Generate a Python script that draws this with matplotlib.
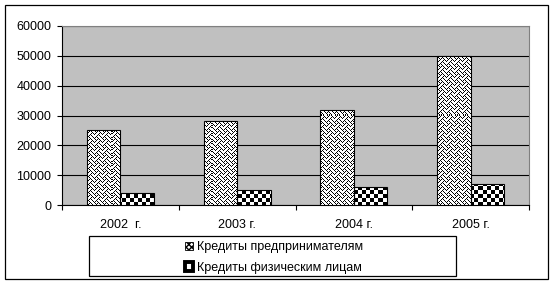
import numpy as np
import matplotlib
matplotlib.use("Agg")
import matplotlib.pyplot as plt
from matplotlib.patches import Rectangle, Patch

plt.rcParams['font.family'] = ['Liberation Sans', 'DejaVu Sans']

categories = ['2002  г.', '2003 г.', '2004 г.', '2005 г.']
entrepreneurs = [25000, 28000, 32000, 50000]
individuals = [4000, 5000, 6000, 7000]
series_names = ['Кредиты предпринимателям', 'Кредиты физическим лицам']
yticks = [0, 10000, 20000, 30000, 40000, 50000, 60000]

W, H = 555, 284
FS = 9
fig = plt.figure(figsize=(W / 100, H / 100), dpi=100)
fig.patch.set_facecolor('white')

# outer frame
fig.patches.append(Rectangle((5 / W, 1 - 279 / H), 543 / W, 274 / H, transform=fig.transFigure,
                             fill=False, edgecolor='black', linewidth=0.9))

ax_l, ax_r, ax_t, ax_b = 62, 529, 26, 205
ax = fig.add_axes([ax_l / W, 1 - ax_b / H, (ax_r - ax_l) / W, (ax_b - ax_t) / H])
ax.set_facecolor('#C0C0C0')

x = np.arange(len(categories))
bw = 0.287
bars1 = ax.bar(x - bw / 2, entrepreneurs, bw, facecolor='none', edgecolor='black', linewidth=0.8, zorder=4)
bars2 = ax.bar(x + bw / 2, individuals, bw, facecolor='none', edgecolor='black', linewidth=0.8, zorder=4)

# pixel patterns (8x8 tiles)
pw, ph = ax_r - ax_l, ax_b - ax_t

def tile_from_bytes(rows):
    t = np.array([[(r >> (7 - k)) & 1 for k in range(8)] for r in rows], dtype=bool)
    reps = (ph // 8 + 2, pw // 8 + 2)
    return np.tile(t, reps)[:ph, :pw]

weave = tile_from_bytes([0x88, 0x54, 0x22, 0x45, 0x88, 0x14, 0x22, 0x51])
ii, jj = np.mgrid[0:ph, 0:pw]
checker = (((ii // 4) + (jj // 4)) % 2 == 0)

def to_rgb(mask):
    img = np.ones((ph, pw, 3))
    img[mask] = 0.0
    return img

zig_img = to_rgb(weave)
chk_img = to_rgb(checker)

for bars, img in ((bars1, zig_img), (bars2, chk_img)):
    for b in bars:
        im = ax.imshow(img, extent=(0, 1, 0, 1), transform=ax.transAxes, interpolation='nearest',
                       aspect='auto', zorder=3)
        im.set_clip_path(b)

ax.set_xlim(-0.5, len(categories) - 0.5)
ax.set_ylim(0, 60000)

ax.set_yticks(yticks)
ax.set_yticklabels([str(v) for v in yticks])
ax.yaxis.grid(True, color='black', linewidth=0.8, zorder=1)
ax.set_axisbelow(True)

ax.set_xticks(np.arange(-0.5, len(categories), 1.0))
ax.set_xticklabels([])
ax.set_xticks(x, minor=True)
ax.set_xticklabels(categories, minor=True)
ax.tick_params(axis='x', which='major', direction='out', length=3.6, width=0.8, color='black')
ax.tick_params(axis='x', which='minor', length=0, pad=10.0, labelsize=FS)
ax.tick_params(axis='y', direction='out', length=3.6, width=0.8, pad=4.0, labelsize=FS)

for s in ('left', 'bottom'):
    ax.spines[s].set_color('black')
    ax.spines[s].set_linewidth(0.8)
for s in ('top', 'right'):
    ax.spines[s].set_color('#808080')
    ax.spines[s].set_linewidth(0.8)

# legend box
lx0, lx1, ly0, ly1 = 89, 456, 236, 276
fig.patches.append(Rectangle((lx0 / W, 1 - ly1 / H), (lx1 - lx0) / W, (ly1 - ly0) / H, transform=fig.transFigure,
                             facecolor='white', edgecolor='black', linewidth=0.9, zorder=2))
handles = [Patch(facecolor='white', edgecolor='black', hatch='xxxxxx', linewidth=0.6),
           Patch(facecolor='white', edgecolor='black', linewidth=2.8)]
leg = fig.legend(handles, series_names, loc='center',
                 bbox_to_anchor=((lx0 + lx1) / 2 / W + 0.003, 1 - 257.5 / H),
                 bbox_transform=fig.transFigure, frameon=False, fontsize=FS, handlelength=0.65, handleheight=0.65,
                 handletextpad=0.3, labelspacing=0.7, borderpad=0)
leg.set_zorder(5)

fig.savefig('out.png', dpi=100)
